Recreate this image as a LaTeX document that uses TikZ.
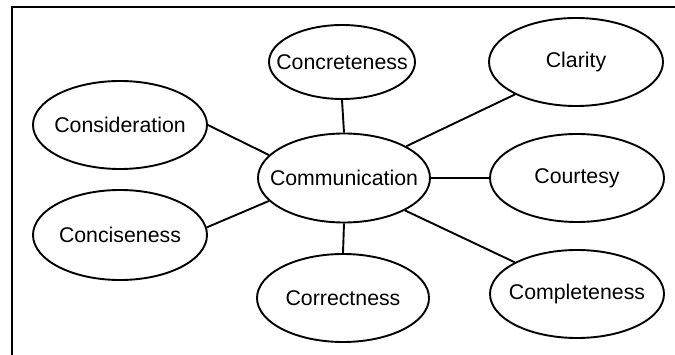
\documentclass[tikz,border=0pt]{standalone}
\usepackage{fontspec}
\setmainfont{Liberation Sans}
\usetikzlibrary{shapes.geometric}
\newcommand{\ztxt}[1]{\makebox[0pt]{#1}}
\begin{document}
\begin{tikzpicture}[x=1pt,y=-1pt,
  topic/.style={ellipse, draw, line width=1.9pt, inner sep=0pt,
    minimum width=174pt, minimum height=88pt,
    font=\fontsize{21.3}{24}\selectfont},
  link/.style={line width=1.9pt}]
\useasboundingbox (0,0) rectangle (675,355);
\draw[line width=2.2pt] (675,7) -- (12,7) -- (12,355);
\node[topic, minimum width=146pt, minimum height=74pt] (conc) at (342,62) {\ztxt{Concreteness}};
\node[topic] (cons) at (120,125) {\ztxt{Consideration}};
\node[topic, minimum width=172pt, minimum height=89pt] (comm) at (344,178) {\ztxt{Communication}};
\node[topic] (clar) at (576,62) {\ztxt{Clarity}};
\node[topic] (cour) at (577,178) {\ztxt{Courtesy}};
\node[topic, minimum height=90pt] (conci) at (120,235) {\ztxt{Conciseness}};
\node[topic, minimum width=172pt] (corr) at (343,298) {\ztxt{Correctness}};
\node[topic] (comp) at (577,294) {\ztxt{Completeness}};
\draw[link] (cons.east) -- (comm.163);
\draw[link] (conci.5) -- (comm.197);
\draw[link] (conc.south) -- (comm.north);
\draw[link] (clar.208) -- (comm.27);
\draw[link] (comm.east) -- (cour.west);
\draw[link] (comm.south) -- (corr.north);
\draw[link] (comm.332) -- (comp.153);
\end{tikzpicture}
\end{document}
